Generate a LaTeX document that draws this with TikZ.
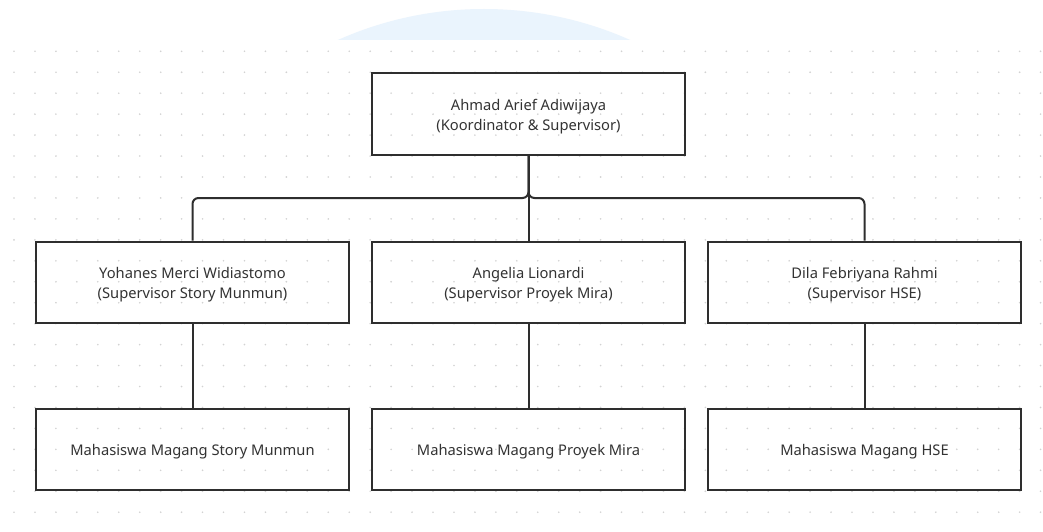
\documentclass[tikz,border=0pt]{standalone}
\usepackage{fontspec}
\setmainfont{Noto Sans}
\definecolor{arcblue}{HTML}{EAF4FD}
\definecolor{dotgray}{HTML}{D2D2D2}
\definecolor{boxline}{HTML}{2E2E2E}
\definecolor{textcol}{HTML}{333333}
\tikzset{
  box/.style={draw=boxline, line width=2pt, minimum width=313pt, minimum height=81pt, inner sep=0pt},
  lbl/.style={align=center, text=textcol, font=\fontsize{14.7}{20.5}\selectfont, inner sep=0pt, yshift=-2.5pt},
  conn/.style={draw=boxline, line width=2pt, rounded corners=6pt}
}
\begin{document}
\begin{tikzpicture}[x=1pt,y=-1pt]
\useasboundingbox (0,0) rectangle (1043,532);
\fill[white] (0,0) rectangle (1043,532);
\begin{scope}
  \clip (0,0) rectangle (1043,40);
  \fill[arcblue] (484,368) circle (359pt);
\end{scope}
\foreach \i in {0,...,49}{
  \foreach \j in {0,...,22}{
    \fill[dotgray] (14+\i*20.95, 51.3+\j*20.95) circle (0.9pt);
  }
}
\node[box] (top) at (528.5,114) {};
\node[box] (s1) at (192.5,282) {};
\node[box] (s2) at (528.5,282) {};
\node[box] (s3) at (864.5,282) {};
\node[box] (m1) at (192.5,449.5) {};
\node[box] (m2) at (528.5,449.5) {};
\node[box] (m3) at (864.5,449.5) {};
\node[lbl] (topt) at (top) {Ahmad Arief Adiwijaya\\(Koordinator \& Supervisor)};
\node[lbl] (s1t) at (s1) {Yohanes Merci Widiastomo\\(Supervisor Story Munmun)};
\node[lbl] (s2t) at (s2) {Angelia Lionardi\\(Supervisor Proyek Mira)};
\node[lbl] (s3t) at (s3) {Dila Febriyana Rahmi\\(Supervisor HSE)};
\node[lbl] (m1t) at (m1) {Mahasiswa Magang Story Munmun};
\node[lbl] (m2t) at (m2) {Mahasiswa Magang Proyek Mira};
\node[lbl] (m3t) at (m3) {Mahasiswa Magang HSE};
\coordinate (bus) at (528.5,198);
\draw[conn] (top.south) -- (s2.north);
\draw[conn] (s1.north) |- (bus) -- (top.south);
\draw[conn] (s3.north) |- (bus) -- (top.south);
\draw[conn] (s1.south) -- (m1.north);
\draw[conn] (s2.south) -- (m2.north);
\draw[conn] (s3.south) -- (m3.north);
\end{tikzpicture}
\end{document}
